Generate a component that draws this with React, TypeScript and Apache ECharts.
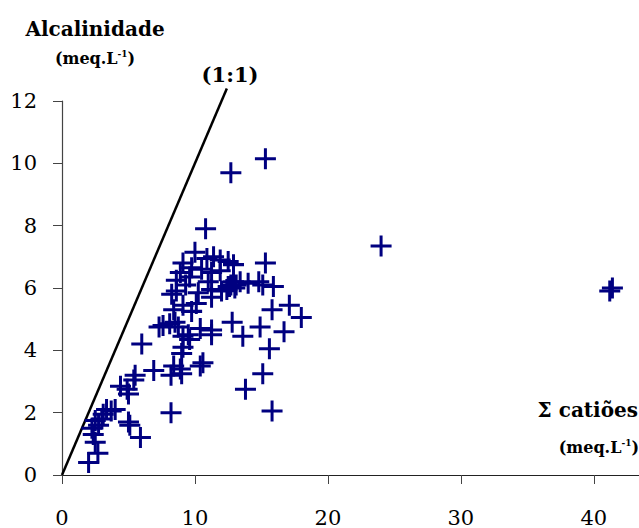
import React, { useEffect, useRef } from "react";
import * as echarts from "echarts";

const xTicks = [0, 10, 20, 30, 40];
const yTicks = [0, 2, 4, 6, 8, 10, 12];

// Σ catiões (x), Alcalinidade (y), meq.L-1
const points: number[][] = [
  [2.0, 0.4], [2.7, 0.7], [2.5, 1.05], [2.35, 1.3], [2.25, 1.5], [2.75, 1.6], [2.5, 1.75], [3.0, 1.8],
  [3.1, 1.95], [3.35, 2.1], [3.7, 2.05], [4.0, 2.1], [5.0, 1.7], [5.1, 1.6], [5.9, 1.2], [4.4, 2.85],
  [4.9, 2.75], [5.4, 3.05], [5.5, 3.2], [5.0, 2.6], [6.0, 4.2], [6.9, 3.35], [7.3, 4.75], [8.2, 2.0],
  [15.3, 10.15], [12.7, 9.7], [10.8, 7.9], [24.0, 7.35], [41.2, 5.9], [41.4, 6.0],
  [15.3, 6.8], [15.8, 5.3], [17.1, 5.45], [18.0, 5.05], [14.9, 4.75], [16.7, 4.6], [13.6, 4.45],
  [15.6, 4.05], [15.1, 3.25], [13.8, 2.75], [15.8, 2.05],
  [14.0, 6.15], [14.8, 6.2], [15.1, 6.1], [15.9, 6.05], [12.6, 6.05], [13.0, 6.0], [13.4, 6.2],
  [10.0, 7.15], [11.4, 7.0], [11.9, 6.9], [12.5, 6.85], [12.9, 6.75], [10.9, 6.95], [9.1, 6.8],
  [9.75, 6.65], [8.9, 6.5], [8.6, 6.25], [9.6, 6.35], [11.25, 6.5], [11.9, 6.55], [12.9, 6.2], [12.5, 6.05],
  [8.6, 5.9], [8.25, 5.8], [10.25, 5.85], [11.25, 5.95], [12.0, 5.9], [11.25, 5.7], [10.1, 5.5],
  [9.1, 5.45], [9.75, 5.25], [7.6, 4.8], [8.1, 4.85], [8.75, 4.75], [10.4, 4.7], [11.25, 4.65],
  [12.8, 4.9], [9.1, 4.45], [9.6, 4.35], [11.25, 4.5], [9.0, 3.9], [8.4, 3.5], [8.9, 3.4],
  [10.6, 3.6], [10.4, 3.5], [8.2, 3.2], [9.0, 3.25], [9.1, 4.1], [9.5, 4.5],
  [8.4, 5.3], [8.5, 4.9], [9.3, 6.1], [10.5, 6.6], [11.0, 6.2], [12.7, 6.1], [12.4, 5.95], [13.1, 6.1],
];

const oneToOne: number[][] = [
  [0, 0],
  [12.4, 12.4],
];

const SERIF = "DejaVu Serif";
const NAVY = "#000080";
const PLUS = "path://M9,0h3v9h9v3h-9v9h-3v-9h-9v-3h9z";

export default function App() {
  const ref = useRef<HTMLDivElement>(null);
  useEffect(() => {
    if (!ref.current) return;
    const chart = echarts.init(ref.current, undefined, { renderer: "svg" });
    const unitRich = {
      a: { fontFamily: SERIF, fontWeight: "bold", fontSize: 16, color: "#000", lineHeight: 20 },
      s: { fontFamily: SERIF, fontWeight: "bold", fontSize: 9, color: "#000", lineHeight: 20, padding: [0, 0, 9, 0] },
    };
    chart.setOption({
      animation: false,
      backgroundColor: "#fff",
      textStyle: { fontFamily: SERIF },
      grid: { left: 62, right: 0, top: 101, bottom: 52, containLabel: false },
      xAxis: {
        type: "value",
        min: xTicks[0],
        max: 43.4,
        interval: 10,
        splitLine: { show: false },
        axisLine: { show: true, onZero: false, lineStyle: { color: "#222", width: 1.2 } },
        axisTick: { show: true, length: 9, lineStyle: { color: "#444" } },
        axisLabel: {
          showMaxLabel: false,
          margin: 32,
          fontFamily: SERIF,
          fontSize: 21,
          color: "#000",
          formatter: (v: number) => (xTicks.includes(v) ? String(v) : ""),
        },
      },
      yAxis: {
        type: "value",
        min: yTicks[0],
        max: yTicks[yTicks.length - 1],
        interval: 2,
        splitLine: { show: false },
        axisLine: { show: true, onZero: false, lineStyle: { color: "#444", width: 1.2 } },
        axisTick: { show: true, length: 9, lineStyle: { color: "#444" } },
        axisLabel: { margin: 25, fontFamily: SERIF, fontSize: 21, color: "#000" },
      },
      series: [
        {
          type: "line",
          data: oneToOne,
          symbol: "none",
          clip: false,
          silent: true,
          lineStyle: { color: "#000", width: 2.5 },
          z: 1,
        },
        {
          type: "scatter",
          data: points,
          symbol: PLUS,
          symbolSize: 21,
          clip: false,
          itemStyle: { color: NAVY, opacity: 1 },
          z: 2,
        },
      ],
      graphic: [
        {
          type: "text",
          x: 95,
          y: 29,
          style: { text: "Alcalinidade", font: `bold 20px ${SERIF}`, fill: "#000", align: "center", verticalAlign: "middle" },
        },
        {
          type: "text",
          x: 95,
          y: 58,
          style: { text: "{a|(meq.L}{s|-1}{a|)}", rich: unitRich, align: "center", verticalAlign: "middle" },
        },
        {
          type: "text",
          x: 230,
          y: 74,
          style: { text: "(1:1)", font: `bold 21px ${SERIF}`, fill: "#000", align: "center", verticalAlign: "middle" },
        },
        {
          type: "text",
          x: 638,
          y: 410,
          style: { text: "Σ catiões", font: `bold 20px ${SERIF}`, fill: "#000", align: "right", verticalAlign: "middle" },
        },
        {
          type: "text",
          x: 639,
          y: 447,
          style: { text: "{a|(meq.L}{s|-1}{a|)}", rich: unitRich, align: "right", verticalAlign: "middle" },
        },
      ],
    });
    return () => chart.dispose();
  }, []);
  return (
    <div style={{ position: "fixed", left: 0, top: 0, width: 639, height: 528, overflow: "hidden", background: "#fff" }}>
      <div ref={ref} style={{ width: 639, height: 528 }} />
    </div>
  );
}
